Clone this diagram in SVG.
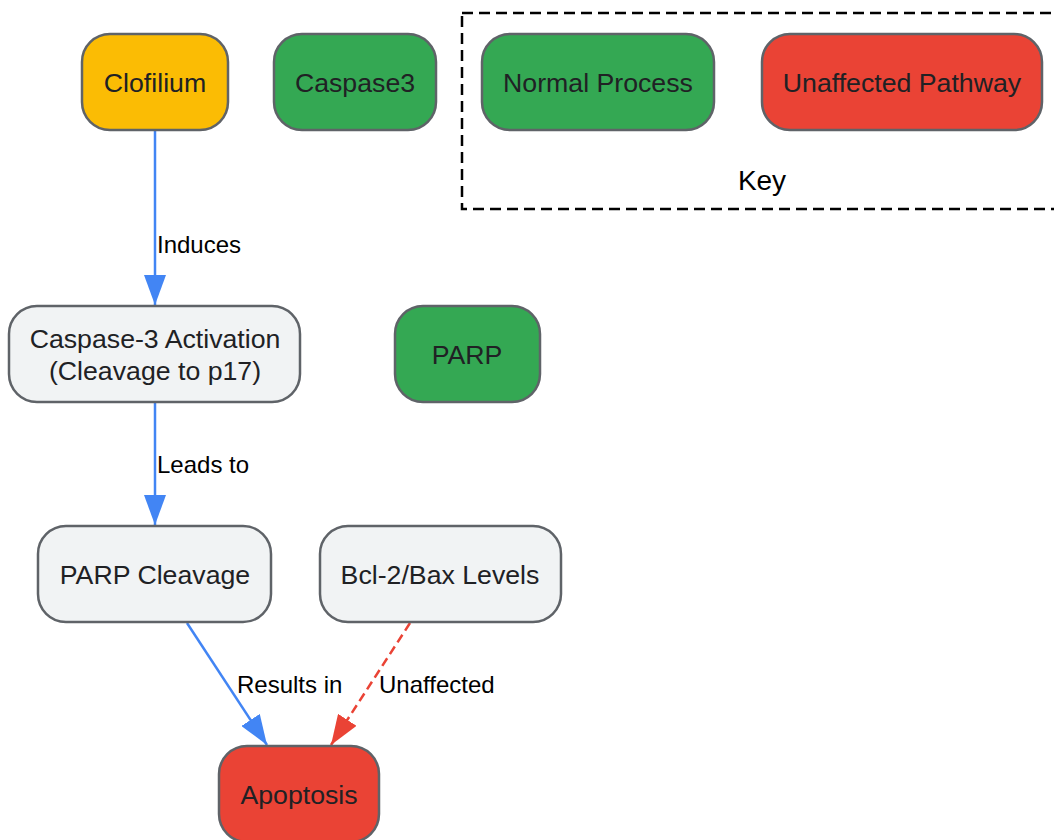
<svg xmlns="http://www.w3.org/2000/svg" width="1054" height="840" viewBox="0 0 1054 840">
<defs>
<style>
.node rect{stroke:#5f6368;stroke-width:2.5}
.nt{font-family:"Liberation Sans",Arial,sans-serif;font-size:26.7px;fill:#202124;text-anchor:middle}
.el{font-family:"Liberation Sans",Arial,sans-serif;font-size:24px;fill:#000}
.blue{stroke:#4285f4;stroke-width:2.5;fill:none}
.red{stroke:#ea4335;stroke-width:2.5;fill:none;stroke-dasharray:9 5}
.green{fill:#34a853}.redf{fill:#ea4335}.yellow{fill:#fbbc04}.gray{fill:#f1f3f4}
</style>
<marker id="ab" viewBox="0 0 30 22" refX="30" refY="11" markerWidth="30" markerHeight="22" markerUnits="userSpaceOnUse" orient="auto"><path d="M0,0 L30,11 L0,22 z" fill="#4285f4"/></marker>
<marker id="ar" viewBox="0 0 30 22" refX="30" refY="11" markerWidth="30" markerHeight="22" markerUnits="userSpaceOnUse" orient="auto"><path d="M0,0 L30,11 L0,22 z" fill="#ea4335"/></marker>
</defs>
<rect width="1054" height="840" fill="#fff"/>
<g id="key">
<rect x="462" y="13" width="610" height="196" fill="none" stroke="#000" stroke-width="2.5" stroke-dasharray="11 6"/>
<text x="762" y="190" style="font-family:'Liberation Sans',Arial,sans-serif;font-size:28px;fill:#000;text-anchor:middle">Key</text>
</g>
<g id="connectors">
<line class="blue" x1="155" y1="130" x2="155" y2="305" marker-end="url(#ab)"/>
<line class="blue" x1="155" y1="402" x2="155" y2="525" marker-end="url(#ab)"/>
<line class="blue" x1="187" y1="623" x2="267" y2="745" marker-end="url(#ab)"/>
<line class="red" x1="410" y1="623" x2="331" y2="745" marker-end="url(#ar)"/>
<text class="el" x="157" y="253">Induces</text>
<text class="el" x="157" y="473">Leads to</text>
<text class="el" x="237" y="693">Results in</text>
<text class="el" x="379" y="693">Unaffected</text>
</g>
<g id="clofilium" class="node"><rect class="yellow" x="82" y="34" width="146" height="96" rx="28"/><text class="nt" x="155" y="92">Clofilium</text></g>
<g id="caspase3" class="node"><rect class="green" x="274" y="34" width="162" height="96" rx="28"/><text class="nt" x="355" y="92">Caspase3</text></g>
<g id="normal" class="node"><rect class="green" x="482" y="34" width="232" height="96" rx="28"/><text class="nt" x="598" y="92">Normal Process</text></g>
<g id="unaffected" class="node"><rect class="redf" x="762" y="34" width="280" height="96" rx="28"/><text class="nt" x="902" y="92">Unaffected Pathway</text></g>
<g id="casp-act" class="node"><rect class="gray" x="9" y="306" width="291" height="96" rx="28"/><text class="nt" x="155" y="348">Caspase-3 Activation</text><text class="nt" x="155" y="380">(Cleavage to p17)</text></g>
<g id="parp" class="node"><rect class="green" x="395" y="306" width="145" height="96" rx="28"/><text class="nt" x="467" y="364">PARP</text></g>
<g id="parp-cleavage" class="node"><rect class="gray" x="38" y="526" width="233" height="96" rx="28"/><text class="nt" x="155" y="584">PARP Cleavage</text></g>
<g id="bcl2" class="node"><rect class="gray" x="320" y="526" width="241" height="96" rx="28"/><text class="nt" x="440" y="584">Bcl-2/Bax Levels</text></g>
<g id="apoptosis" class="node"><rect class="redf" x="219" y="746" width="160" height="96" rx="28"/><text class="nt" x="299" y="804">Apoptosis</text></g>
</svg>
